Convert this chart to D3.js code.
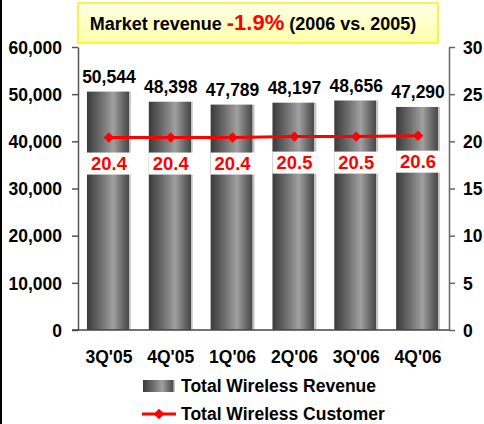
<!DOCTYPE html>
<meta charset="utf-8">
<script src="https://cdn.jsdelivr.net/npm/d3@7"></script>
<style>
	body { margin: 0; background: #fff; }
	svg { display: block; font-family: "Liberation Sans", Arial, sans-serif; font-weight: bold; }
</style>
<div id="vis"></div>
<script>
	// data
	const quarters = ["3Q'05", "4Q'05", "1Q'06", "2Q'06", "3Q'06", "4Q'06"];
	const revenue = [50544, 48398, 47789, 48197, 48656, 47290];
	const customers = [20.4, 20.4, 20.4, 20.5, 20.5, 20.6];
	const leftTicks = [0, 10000, 20000, 30000, 40000, 50000, 60000];
	const rightTicks = [0, 5, 10, 15, 20, 25, 30];

	const width = 484, height = 424;
	const plotLeft = 78, plotRight = 449, plotTop = 47, plotBottom = 330;

	const svg = d3.select("#vis").append("svg")
		.attr("width", width)
		.attr("height", height);

	const defs = svg.append("defs");
	const grad = defs.append("linearGradient").attr("id", "barGrad")
		.attr("x1", "0%").attr("x2", "100%").attr("y1", "0%").attr("y2", "0%");
	[[0, "#3a3a3a"], [0.3, "#6a6a6a"], [0.6, "#a0a0a0"], [0.82, "#666"], [0.95, "#484848"], [0.955, "#c4c4c4"], [1, "#c4c4c4"]]
		.forEach(s => grad.append("stop").attr("offset", s[0]).attr("stop-color", s[1]));
	const ygrad = defs.append("linearGradient").attr("id", "titleGrad")
		.attr("x1", "0%").attr("x2", "0%").attr("y1", "0%").attr("y2", "100%");
	ygrad.append("stop").attr("offset", 0).attr("stop-color", "#ffffe6");
	ygrad.append("stop").attr("offset", 1).attr("stop-color", "#ffffa8");

	// left frame line
	svg.append("rect").attr("x", 0).attr("y", 0).attr("width", 2).attr("height", height).attr("fill", "#000");

	const x = d3.scaleBand().domain(quarters).range([plotLeft, plotRight]).paddingInner(0.29).paddingOuter(0.145);
	const y = d3.scaleLinear().domain([0, 60000]).range([plotBottom, plotTop]);
	const y2 = d3.scaleLinear().domain([0, 30]).range([plotBottom, plotTop]);

	// title box
	svg.append("rect").attr("x", 78).attr("y", 3).attr("width", 360).attr("height", 40)
		.attr("fill", "url(#titleGrad)").attr("stroke", "#f5f01e").attr("stroke-width", 1.5);
	const title = svg.append("text").attr("x", 253).attr("y", 30).attr("text-anchor", "middle")
		.attr("font-size", 18).attr("fill", "#000");
	title.append("tspan").text("Market revenue ");
	title.append("tspan").attr("fill", "#ff0000").attr("font-size", 22).text("-1.9%");
	title.append("tspan").text(" (2006 vs. 2005)");

	// bars
	svg.append("g").selectAll("rect").data(revenue).enter()
		.append("rect")
		.attr("x", (d, i) => x(quarters[i]))
		.attr("y", d => y(d))
		.attr("width", x.bandwidth())
		.attr("height", d => plotBottom - y(d))
		.attr("fill", "url(#barGrad)");

	svg.append("g").selectAll("text").data(revenue).enter()
		.append("text")
		.attr("x", (d, i) => x(quarters[i]) + x.bandwidth() / 2)
		.attr("y", d => y(d) - 9)
		.attr("text-anchor", "middle")
		.attr("font-size", 17.5)
		.text(d => d3.format(",")(d));

	// left axis
	const gl = svg.append("g").attr("transform", `translate(${plotLeft},0)`)
		.call(d3.axisLeft(y).tickValues(leftTicks).tickFormat(d3.format(",")).tickSize(6).tickSizeOuter(0).tickPadding(10))
		.attr("font-family", null).attr("font-size", null);
	gl.select(".domain").attr("stroke", "#555").attr("stroke-width", 1.5);
	gl.selectAll(".tick line").attr("stroke", "#555").attr("stroke-width", 1.5);
	gl.selectAll(".tick text").attr("font-size", 17.5).attr("fill", "#000").attr("dy", "0.36em");

	// right axis
	const gr = svg.append("g").attr("transform", `translate(${plotRight},0)`)
		.call(d3.axisRight(y2).tickValues(rightTicks).tickSize(6).tickSizeOuter(0).tickPadding(8))
		.attr("font-family", null).attr("font-size", null);
	gr.select(".domain").attr("stroke", "#666").attr("stroke-width", 1.5);
	gr.selectAll(".tick line").attr("stroke", "#666").attr("stroke-width", 1.5);
	gr.selectAll(".tick text").attr("font-size", 17.5).attr("fill", "#000").attr("dy", "0.36em");

	// baseline
	svg.append("line").attr("x1", 72).attr("x2", plotRight).attr("y1", plotBottom).attr("y2", plotBottom)
		.attr("stroke", "#444").attr("stroke-width", 1.5);

	// x labels
	svg.append("g").selectAll("text").data(quarters).enter()
		.append("text")
		.attr("x", d => x(d) + x.bandwidth() / 2)
		.attr("y", 363)
		.attr("text-anchor", "middle")
		.attr("font-size", 17.5)
		.text(d => d);

	// customer line
	const cx = (d, i) => x(quarters[i]) + x.bandwidth() / 2;
	const line = d3.line().x(cx).y(d => y2(d));
	svg.append("path").datum(customers).attr("d", line)
		.attr("fill", "none").attr("stroke", "#ff0000").attr("stroke-width", 3);
	const diamond = d3.symbol().type(d3.symbolDiamond2).size(70);
	svg.append("g").selectAll("path").data(customers).enter()
		.append("path")
		.attr("d", diamond)
		.attr("transform", (d, i) => `translate(${cx(d, i)},${y2(d)})`)
		.attr("fill", "#ff0000");

	const lab = svg.append("g").selectAll("g").data(customers).enter()
		.append("g")
		.attr("transform", (d, i) => `translate(${cx(d, i)},${y2(d)})`);
	lab.append("rect").attr("x", -22).attr("y", 15).attr("width", 45).attr("height", 22).attr("fill", "#fff");
	lab.append("text").attr("x", 0).attr("y", 32).attr("text-anchor", "middle")
		.attr("font-size", 18.5).attr("fill", "#ff0000").text(d => d3.format(".1f")(d));

	// legend
	svg.append("rect").attr("x", 143).attr("y", 380).attr("width", 32).attr("height", 12).attr("fill", "url(#barGrad)");
	svg.append("text").attr("x", 181).attr("y", 392).attr("font-size", 17.5).text("Total Wireless Revenue");
	svg.append("line").attr("x1", 142).attr("x2", 176).attr("y1", 414).attr("y2", 414)
		.attr("stroke", "#ff0000").attr("stroke-width", 3);
	svg.append("path").attr("d", diamond).attr("transform", "translate(159,414)").attr("fill", "#ff0000");
	svg.append("text").attr("x", 181).attr("y", 420).attr("font-size", 17.5).text("Total Wireless Customer");
</script>
